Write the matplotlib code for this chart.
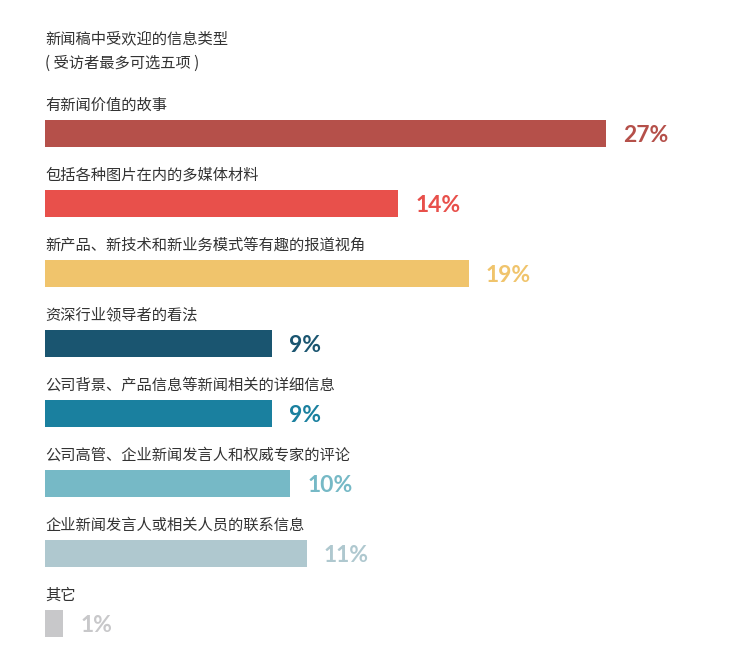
import matplotlib.pyplot as plt

plt.rcParams['font.family'] = ['Noto Sans CJK SC', 'DejaVu Sans']

title_lines = ['新闻稿中受欢迎的信息类型', '( 受访者最多可选五项 )']
categories = ['有新闻价值的故事', '包括各种图片在内的多媒体材料', '新产品、新技术和新业务模式等有趣的报道视角',
              '资深行业领导者的看法', '公司背景、产品信息等新闻相关的详细信息',
              '公司高管、企业新闻发言人和权威专家的评论', '企业新闻发言人或相关人员的联系信息', '其它']
pct_labels = ['27%', '14%', '19%', '9%', '9%', '10%', '11%', '1%']
# bar lengths as drawn in the picture (scale: the 27% bar = 27)
bar_lengths = [27, 17.0, 20.4, 10.9, 10.9, 11.8, 12.6, 0.87]
colors = ['#B5504A', '#E8504B', '#F0C46C', '#1A5570', '#1A809F', '#76B9C6', '#AFC8CF', '#C8C8CA']

W, H = 741, 665
fig = plt.figure(figsize=(W / 100, H / 100), dpi=100)
px_per_unit = 20.78
left = 45
ax = fig.add_axes([left / W, 0, 1 - left / W, 1])
ax.set_xlim(0, (W - left) / px_per_unit)
row = 70.0
first = 133.0
ax.set_ylim((H - first) / row, -first / row)
ax.axis('off')

bar_h = 27 / row
ys = list(range(len(categories)))
ax.barh(ys, bar_lengths, height=bar_h, color=colors, left=0)

for i, (cat, lab, v, c) in enumerate(zip(categories, pct_labels, bar_lengths, colors)):
    ax.text(0, i - bar_h / 2 - 10 / row, cat, fontsize=11, color='#333333', va='baseline', ha='left')
    ax.text(v + 17 / px_per_unit, i + 3 / row, lab, fontsize=16.5, fontweight='bold', color=c,
            family=['Lato', 'DejaVu Sans'], va='center', ha='left')

fig.text(left / W, 1 - 43 / H, title_lines[0], fontsize=11, color='#333333', va='baseline')
fig.text(left / W, 1 - 68 / H, title_lines[1], fontsize=11, color='#333333', va='baseline')

fig.savefig('out.png', dpi=100, facecolor='white')
